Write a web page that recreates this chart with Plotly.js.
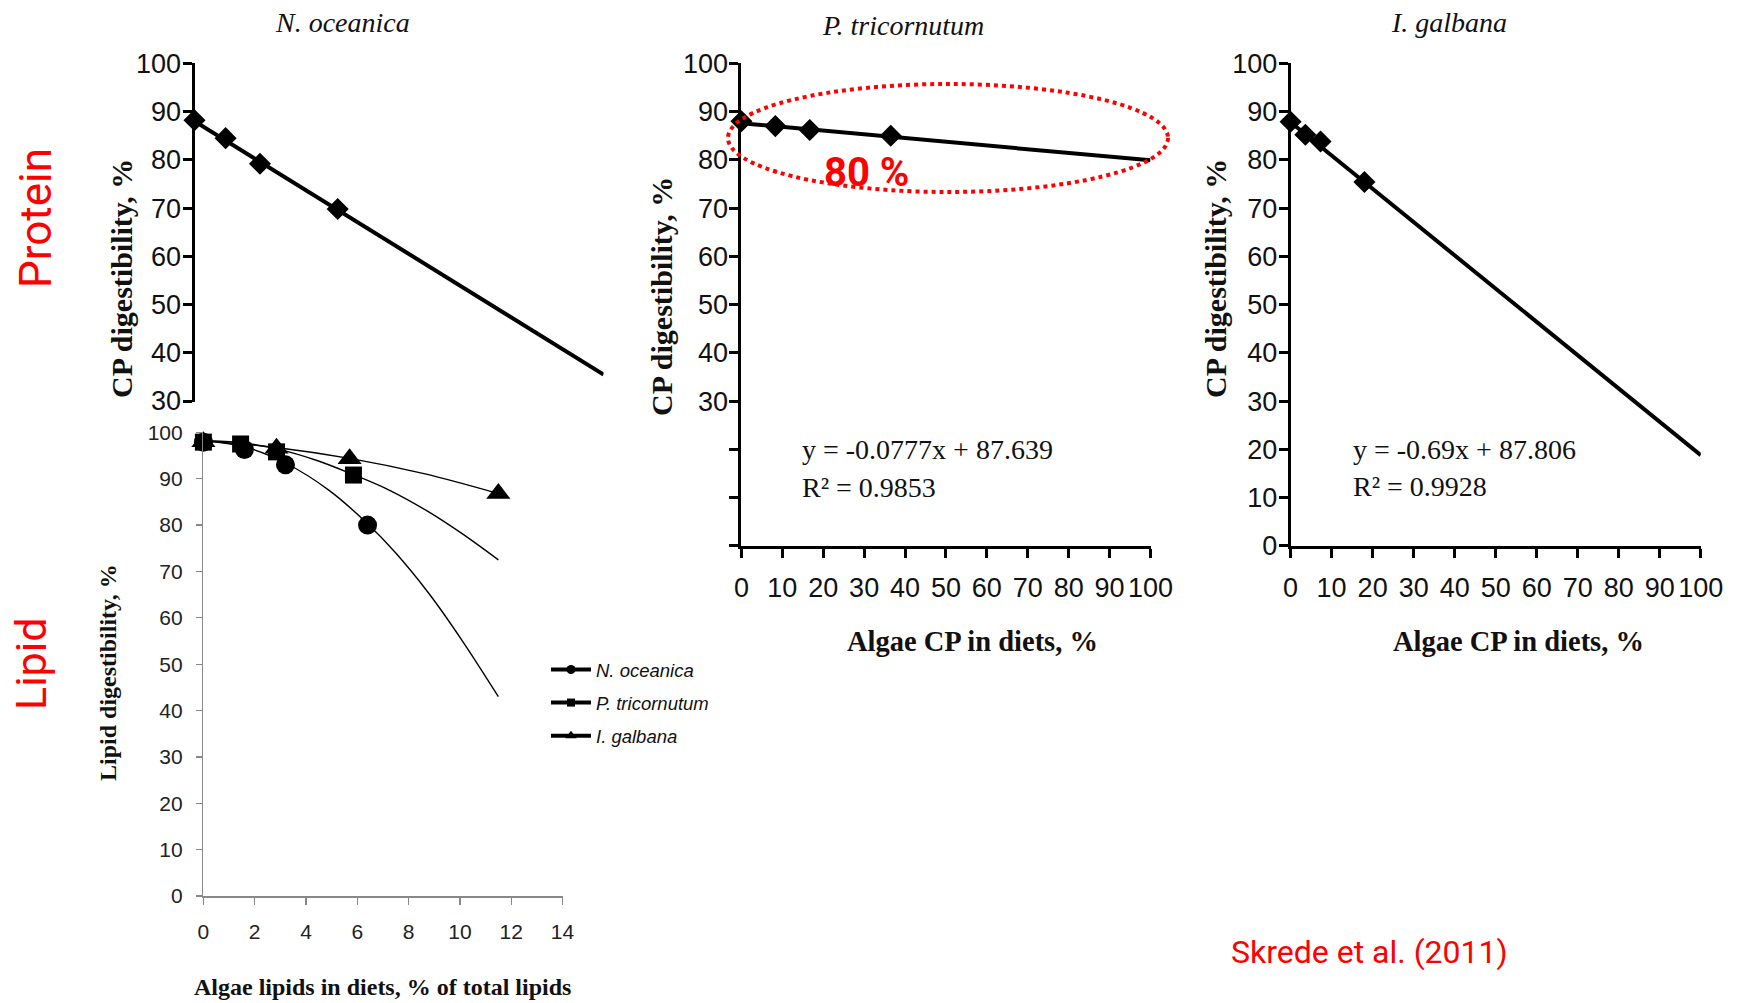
<!DOCTYPE html>
<html><head><meta charset="utf-8">
<script src="https://cdn.plot.ly/plotly-3.0.1.min.js"></script>
<style>html,body{margin:0;padding:0;background:#fff;overflow:hidden}</style>
</head><body><div id="chart" style="width:1743px;height:1003px"></div>
<script>
// ---------- data ----------
const proteinTicks = [0,10,20,30,40,50,60,70,80,90,100];
const lipidXTicks = [0,2,4,6,8,10,12,14];
const lipidYTicks = [0,10,20,30,40,50,60,70,80,90,100];

// Protein (CP) digestibility vs algae CP in diets
const nOceanicaCP_x = [0, 7.6, 16, 35];
const nOceanicaCP_y = [88.2, 84.5, 79.2, 69.8];
const nOceanicaFit_x = [0, 100];
const nOceanicaFit_y = [88.0, 35.5];

const pTricCP_x = [0, 8.3, 16.7, 36.5];
const pTricCP_y = [88.0, 87.0, 86.2, 85.0];
const pTricFit_x = [0, 100];
const pTricFit_y = [87.6, 79.9];

const iGalbCP_x = [0, 3.6, 7.3, 18];
const iGalbCP_y = [87.9, 85.2, 83.8, 75.4];
const iGalbFit_x = [0, 100];
const iGalbFit_y = [87.8, 18.8];

// Lipid digestibility vs algae lipids in diets
const nOceanicaLip_x = [0, 1.6, 3.2, 6.4];
const nOceanicaLip_y = [97.9, 96.3, 93.0, 80.0];
const nOceanicaCurve_x = [0, 1.6, 3.2, 4.9, 6.4, 7.5, 8.8, 10.1, 11.5];
const nOceanicaCurve_y = [98.2, 96.9, 93.4, 87.5, 80.3, 74.0, 65.2, 55.0, 43.0];

const pTricLip_x = [0, 1.45, 2.85, 5.85];
const pTricLip_y = [97.9, 97.5, 95.8, 90.8];
const pTricCurve_x = [0, 1.45, 2.9, 4.4, 5.8, 7.3, 8.8, 10.1, 11.5];
const pTricCurve_y = [98.2, 97.8, 96.4, 94.0, 91.0, 87.4, 82.8, 78.1, 72.5];

const iGalbLip_x = [0, 2.85, 5.7, 11.5];
const iGalbLip_y = [98.0, 96.6, 94.3, 86.8];
const iGalbCurve_x = [0, 2.9, 5.7, 8.6, 11.5];
const iGalbCurve_y = [98.2, 96.7, 94.4, 91.1, 86.8];

const speciesNames = ['N. oceanica', 'P. tricornutum', 'I. galbana'];
const eqTricornutum = ['y = -0.0777x + 87.639', 'R² = 0.9853'];
const eqGalbana = ['y = -0.69x + 87.806', 'R² = 0.9928'];

// ---------- layout helpers ----------
const W = 1743, H = 1003;
const X = p => p / W;
const Y = p => 1 - p / H;
const SERIF = 'Liberation Serif, Times New Roman, serif';
const SANS = 'Liberation Sans, Arial, sans-serif';
const DIN = 'Roboto, Liberation Sans, sans-serif';
const RED = '#ff0000';

const protTickFont = {family: SANS, size: 27, color: '#111'};
function protX(domain, anchor, show) {
  return {domain: domain, range: [0, 100], anchor: anchor, visible: show,
    tickvals: proteinTicks, ticks: 'outside', ticklen: 9, tickwidth: 3, tickcolor: '#000',
    showline: true, linecolor: '#000', linewidth: 3, showgrid: false, zeroline: false,
    tickfont: protTickFont, tickangle: 0, ticklabelstandoff: 7, fixedrange: true};
}
function protY(domain, anchor, range, tickvals, ticktext) {
  return {domain: domain, range: range, anchor: anchor,
    tickvals: tickvals, ticktext: ticktext, ticks: 'outside', ticklen: 9, tickwidth: 3, tickcolor: '#000',
    showline: true, linecolor: '#000', linewidth: 3, showgrid: false, zeroline: false,
    tickfont: protTickFont, ticklabelstandoff: -4, fixedrange: true};
}

const yTopDomain = [Y(545.8), Y(63.4)];
const tricText = proteinTicks.map(v => v < 30 ? '' : String(v));

const layout = {
  width: W, height: H, autosize: false,
  margin: {l: 0, r: 0, t: 0, b: 0, pad: 0},
  paper_bgcolor: '#fff', plot_bgcolor: 'rgba(0,0,0,0)',
  showlegend: true,
  legend: {x: X(546), y: Y(651), xanchor: 'left', yanchor: 'top',
    font: {family: SANS, size: 18.5, color: '#111', style: 'italic'},
    bgcolor: 'rgba(0,0,0,0)', borderwidth: 0, tracegroupgap: 6, traceorder: 'grouped', itemwidth: 40},
  // A: N. oceanica protein (lower part hidden behind lipid chart)
  xaxis: protX([X(194.5), X(603.6)], 'y', false),
  yaxis: protY([Y(402), Y(63.4)], 'x', [29.8, 100], proteinTicks.slice(3), proteinTicks.slice(3).map(String)),
  // B: P. tricornutum
  xaxis2: protX([X(741.4), X(1150.5)], 'y2', true),
  yaxis2: protY(yTopDomain, 'x2', [0, 100], proteinTicks, tricText),
  // C: I. galbana
  xaxis3: protX([X(1290.6), X(1700.8)], 'y3', true),
  yaxis3: protY(yTopDomain, 'x3', [0, 100], proteinTicks, proteinTicks.map(String)),
  // D: lipid
  xaxis4: {domain: [X(203.4), X(562.5)], range: [0, 14], anchor: 'y4', tickvals: lipidXTicks,
    ticks: 'outside', ticklen: 7, tickwidth: 1.3, tickcolor: '#888', showline: true, linecolor: '#888', linewidth: 1.5,
    showgrid: false, zeroline: false, tickfont: {family: SANS, size: 21, color: '#222'}, tickangle: 0,
    ticklabelstandoff: 9, fixedrange: true},
  yaxis4: {domain: [Y(896), Y(432.4)], range: [0, 100], anchor: 'x4', tickvals: lipidYTicks,
    ticks: 'outside', ticklen: 6, tickwidth: 1.3, tickcolor: '#888', showline: true, linecolor: '#888', linewidth: 1.5,
    showgrid: false, zeroline: false, tickfont: {family: SANS, size: 21, color: '#222'},
    ticklabelstandoff: 9, fixedrange: true},
  shapes: [
    {type: 'circle', xref: 'paper', yref: 'paper', x0: X(728), x1: X(1168), y0: Y(192), y1: Y(84),
     line: {color: RED, width: 4, dash: 'dot'}, layer: 'above'}
  ],
  annotations: []
};

function ann(text, x, y, font, extra) {
  layout.annotations.push(Object.assign({text: text, x: X(x), y: Y(y), xref: 'paper', yref: 'paper',
    showarrow: false, xanchor: 'center', yanchor: 'middle', font: font}, extra || {}));
}
const titleFont = {family: SERIF, size: 28, color: '#111', style: 'italic'};
ann(speciesNames[0], 342, 22, titleFont);
ann(speciesNames[1], 903, 26, titleFont);
ann(speciesNames[2], 1449, 22, titleFont);
const ylabFont = {family: SERIF, size: 30, color: '#111', weight: 'bold'};
ann('CP digestibility, %', 121, 279, ylabFont, {textangle: -90});
ann('CP digestibility, %', 661, 297, ylabFont, {textangle: -90});
ann('CP digestibility, %', 1215, 279, ylabFont, {textangle: -90});
const xlabFont = {family: SERIF, size: 28.5, color: '#111', weight: 'bold'};
ann('Algae CP in diets, %', 972.5, 641, xlabFont);
ann('Algae CP in diets, %', 1518, 641, xlabFont);
const eqFont = {family: SERIF, size: 28, color: '#111'};
ann(eqTricornutum[0], 800, 449, eqFont, {xanchor: 'left'});
ann(eqTricornutum[1], 800, 487, eqFont, {xanchor: 'left'});
ann(eqGalbana[0], 1350.6, 449, eqFont, {xanchor: 'left'});
ann(eqGalbana[1], 1350.6, 486, eqFont, {xanchor: 'left'});
ann('80 %', 866, 173, {family: DIN, size: 40, color: RED, weight: 'bold'});
ann('Protein', 36, 218, {family: DIN, size: 44, color: RED}, {textangle: -90});
ann('Lipid', 31, 664, {family: DIN, size: 43, color: RED}, {textangle: -90});
ann('Lipid digestibility, %', 108, 673, {family: SERIF, size: 24, color: '#111', weight: 'bold'}, {textangle: -90});
ann('Algae lipids in diets, % of total lipids', 382.4, 987, {family: SERIF, size: 24, color: '#111', weight: 'bold'});
ann('Skrede et al. (2011)', 1369.5, 952, {family: DIN, size: 32, color: RED});

// ---------- traces ----------
const traces = [];
function protein(xa, ya, fx, fy, px, py) {
  traces.push({x: fx, y: fy, xaxis: xa, yaxis: ya, mode: 'lines', line: {color: '#000', width: 4},
    showlegend: false, hoverinfo: 'skip'});
  traces.push({x: px, y: py, xaxis: xa, yaxis: ya, mode: 'markers', cliponaxis: false,
    marker: {symbol: 'diamond', size: 17, color: '#000'}, showlegend: false, hoverinfo: 'skip'});
}
protein('x', 'y', nOceanicaFit_x, nOceanicaFit_y, nOceanicaCP_x, nOceanicaCP_y);
protein('x2', 'y2', pTricFit_x, pTricFit_y, pTricCP_x, pTricCP_y);
protein('x3', 'y3', iGalbFit_x, iGalbFit_y, iGalbCP_x, iGalbCP_y);

const lipidSets = [
  [nOceanicaCurve_x, nOceanicaCurve_y, nOceanicaLip_x, nOceanicaLip_y, 'circle', 19, 9],
  [pTricCurve_x, pTricCurve_y, pTricLip_x, pTricLip_y, 'square', 17, 8],
  [iGalbCurve_x, iGalbCurve_y, iGalbLip_x, iGalbLip_y, 'triangle-up', 21, 10]
];
lipidSets.forEach((s, i) => {
  traces.push({x: s[0], y: s[1], xaxis: 'x4', yaxis: 'y4', mode: 'lines', line: {color: '#000', width: 1.4, shape: 'spline'},
    showlegend: false, hoverinfo: 'skip'});
  traces.push({x: s[2], y: s[3], xaxis: 'x4', yaxis: 'y4', mode: 'markers', cliponaxis: false,
    marker: {symbol: s[4], size: s[5], color: '#000'}, showlegend: false, hoverinfo: 'skip'});
});
// legend entries
lipidSets.forEach((s, i) => {
  traces.push({x: [null], y: [null], xaxis: 'x4', yaxis: 'y4', mode: 'lines+markers', name: speciesNames[i],
    legendgroup: 'g' + i, line: {color: '#000', width: 4}, marker: {symbol: s[4], size: s[6], color: '#000'},
    showlegend: true, hoverinfo: 'skip'});
});

Plotly.newPlot('chart', traces, layout, {displayModeBar: false, staticPlot: true});
</script></body></html>
